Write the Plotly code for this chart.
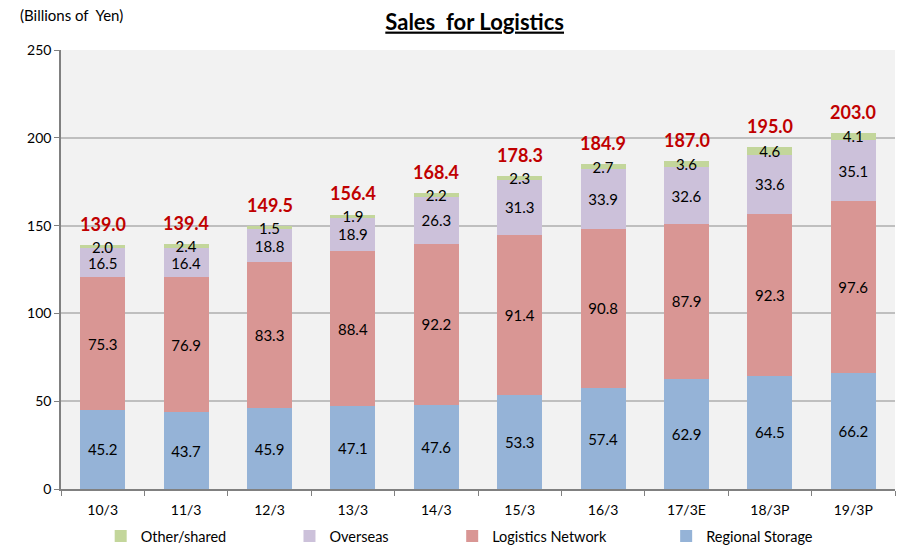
import plotly.graph_objects as go

categories = ["10/3", "11/3", "12/3", "13/3", "14/3", "15/3", "16/3", "17/3E", "18/3P", "19/3P"]
regional_storage = [45.2, 43.7, 45.9, 47.1, 47.6, 53.3, 57.4, 62.9, 64.5, 66.2]
logistics_network = [75.3, 76.9, 83.3, 88.4, 92.2, 91.4, 90.8, 87.9, 92.3, 97.6]
overseas = [16.5, 16.4, 18.8, 18.9, 26.3, 31.3, 33.9, 32.6, 33.6, 35.1]
other_shared = [2.0, 2.4, 1.5, 1.9, 2.2, 2.3, 2.7, 3.6, 4.6, 4.1]
totals = [139.0, 139.4, 149.5, 156.4, 168.4, 178.3, 184.9, 187.0, 195.0, 203.0]

FONT = "Lato, 'Open Sans', sans-serif"

series = [
    ("Regional Storage", regional_storage, "#95b3d7", "legend4"),
    ("Logistics Network", logistics_network, "#d99694", "legend3"),
    ("Overseas", overseas, "#ccc1da", "legend2"),
    ("Other/shared", other_shared, "#c3d69b", "legend"),
]

fig = go.Figure()
for name, vals, color, lg in series:
    fig.add_trace(go.Bar(
        name=name, x=categories, y=vals, legend=lg, showlegend=True,
        marker=dict(color=color, line=dict(width=0)),
        text=[f"{v:.1f}" for v in vals],
        textposition="inside", insidetextanchor="middle",
        textangle=0, constraintext="none",
        textfont=dict(family=FONT, size=15, color="#000000"),
    ))

annotations = [dict(text="(Billions of  Yen)", xref="paper", yref="paper",
                    x=-0.0516, y=1.08, xanchor="left", yanchor="middle",
                    showarrow=False, font=dict(family=FONT, size=15))]
for c, t in zip(categories, totals):
    annotations.append(dict(x=c, y=t, xref="x", yref="y", text=f"<b>{t:.1f}</b>",
                            showarrow=False, yanchor="bottom", yshift=8,
                            font=dict(family=FONT, size=18, color="#c00000")))

def legend_at(xfrac):
    return dict(orientation="h", xref="container", yref="container",
                x=xfrac, xanchor="left", y=0.02, yanchor="middle", visible=True,
                font=dict(family=FONT, size=14.5), itemwidth=30,
                bgcolor="rgba(0,0,0,0)")

fig.update_layout(
    width=899, height=547, showlegend=True,
    barmode="stack", bargap=0.46,
    paper_bgcolor="white", plot_bgcolor="#f2f2f2",
    margin=dict(l=61, r=4, t=50, b=58, autoexpand=False),
    font=dict(family=FONT, size=13, color="#000000"),
    uniformtext=dict(minsize=15, mode="show"),
    title=dict(text="<b><u>Sales  for Logistics</u></b>", x=0.528, xanchor="center",
               y=0.96, yref="container", yanchor="middle",
               font=dict(family=FONT, size=22, color="#000000")),
    legend=legend_at(0.112),
    legend2=legend_at(0.322),
    legend3=legend_at(0.503),
    legend4=legend_at(0.741),
    annotations=annotations,
)
fig.update_xaxes(showline=True, linecolor="#808080", linewidth=1.5, automargin=False,
                 ticks="outside", tickson="boundaries", ticklen=5, tickcolor="#808080",
                 ticklabelstandoff=7, tickfont=dict(size=14), showgrid=False)
fig.update_yaxes(range=[0, 250], dtick=50, showline=True, linecolor="#808080", linewidth=1.5,
                 automargin=False, ticks="outside", ticklen=5, tickcolor="#808080",
                 showgrid=True, gridcolor="#bfbfbf", gridwidth=1.5, zeroline=False,
                 tickfont=dict(size=14))

fig.write_html("out.html", config={"displayModeBar": False},
               post_script="document.body.style.margin='0';")
